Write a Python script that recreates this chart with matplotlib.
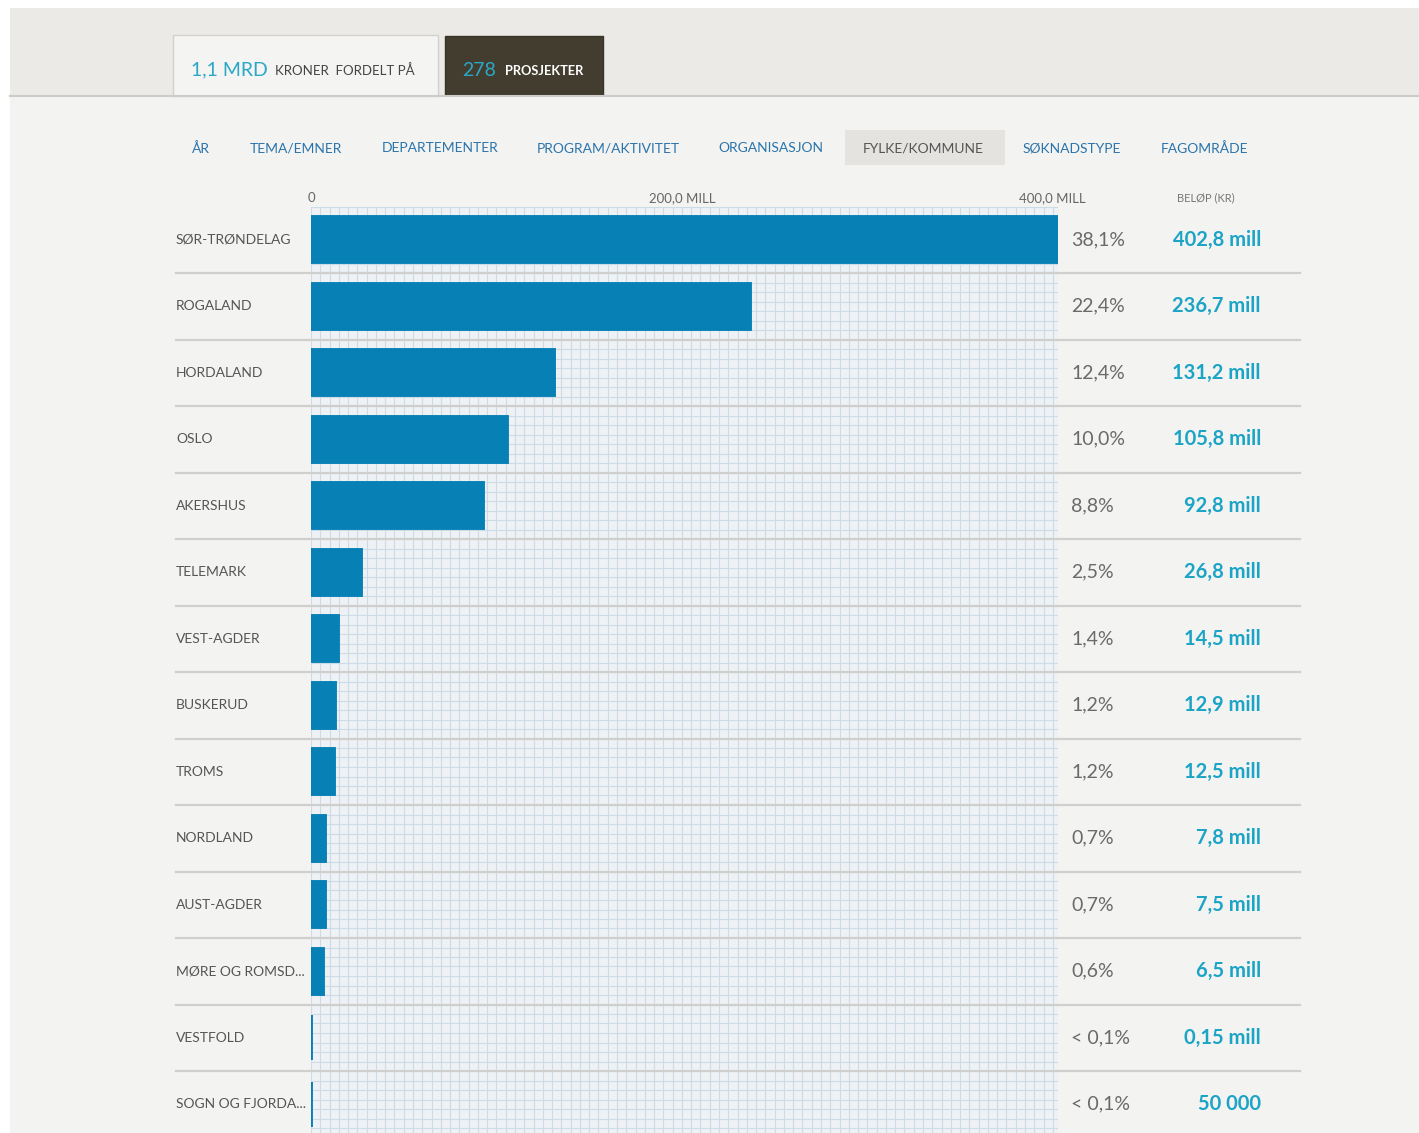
import numpy as np
import matplotlib
matplotlib.use("Agg")
import matplotlib.pyplot as plt
from matplotlib.patches import Rectangle
import matplotlib.transforms as mtransforms

plt.rcParams['font.family'] = ['Lato', 'DejaVu Sans']

# ---------------- data ----------------
regions = ["SØR-TRØNDELAG", "ROGALAND", "HORDALAND", "OSLO", "AKERSHUS",
           "TELEMARK", "VEST-AGDER", "BUSKERUD", "TROMS", "NORDLAND",
           "AUST-AGDER", "MØRE OG ROMSD...", "VESTFOLD", "SOGN OG FJORDA..."]
amounts_mill = [402.8, 236.7, 131.2, 105.8, 92.8, 26.8, 14.5, 12.9, 12.5,
                7.8, 7.5, 6.5, 0.15, 0.05]
percent_labels = ["38,1%", "22,4%", "12,4%", "10,0%", "8,8%", "2,5%", "1,4%",
                  "1,2%", "1,2%", "0,7%", "0,7%", "0,6%", "< 0,1%", "< 0,1%"]
amount_labels = ["402,8 mill", "236,7 mill", "131,2 mill", "105,8 mill",
                 "92,8 mill", "26,8 mill", "14,5 mill", "12,9 mill",
                 "12,5 mill", "7,8 mill", "7,5 mill", "6,5 mill",
                 "0,15 mill", "50 000"]
tick_values = [0, 200, 400]
tick_labels = ["0", "200,0 MILL", "400,0 MILL"]
nav_items = ["ÅR", "TEMA/EMNER", "DEPARTEMENTER", "PROGRAM/AKTIVITET",
             "ORGANISASJON", "FYLKE/KOMMUNE", "SØKNADSTYPE", "FAGOMRÅDE"]
active_nav = "FYLKE/KOMMUNE"
total_text = "1,1 MRD"
projects_text = "278"

# ---------------- figure ----------------
W, H = 1419, 1133
fig = plt.figure(figsize=(W / 100, H / 100), dpi=100, facecolor="white")

# background / decoration axes in pixel coordinates
bg = fig.add_axes([0, 0, 1, 1])
bg.set_xlim(0, W)
bg.set_ylim(H, 0)
bg.axis("off")
bg.add_patch(Rectangle((10, 8), W - 10, 87, facecolor="#ebeae6", edgecolor="none"))
bg.add_patch(Rectangle((10, 95), W - 10, H - 95, facecolor="#f3f3f1", edgecolor="none"))
bg.plot([10, W], [95.5, 95.5], color="#cdccc8", lw=1.5)

# header tabs
bg.add_patch(Rectangle((173, 35), 265, 61, facecolor="#f4f4f2", edgecolor="#d2d1cd", lw=1))
bg.text(191, 70, total_text, color="#2ba8c6", fontsize=14, va="center", ha="left")
bg.text(275, 71, "KRONER  FORDELT PÅ", color="#444444", fontsize=9.5, va="center", ha="left")
bg.add_patch(Rectangle((445, 36), 158, 59, facecolor="#433d30", edgecolor="#3a3428", lw=1))
bg.text(462, 70, projects_text, color="#2ba8c6", fontsize=14, va="center", ha="left")
bg.text(505, 71, "PROSJEKTER", color="white", fontsize=9.2, va="center", ha="left",
        fontweight="bold")

# navigation
nav_x = [201, 296, 440, 608, 771, 923, 1072, 1204]
for name, x in zip(nav_items, nav_x):
    if name == active_nav:
        bg.add_patch(Rectangle((845, 130), 160, 35, facecolor="#e4e3e0", edgecolor="none"))
        col = "#555555"
    else:
        col = "#2a74ac"
    bg.text(x, 148.5, name, color=col, fontsize=10, ha="center", va="center")

bg.text(1206, 198, "BELØP (KR)", color="#777777", fontsize=8, ha="center", va="center")

# ---------------- bar axes ----------------
x0_px, x1_px = 311, 1058
top_px = 206.5
row_h = 66.5
n = len(regions)
xmax = max(amounts_mill)
ax = fig.add_axes([x0_px / W, 0, (x1_px - x0_px) / W, (H - top_px) / H])
ax.set_xlim(0, xmax)
ybottom = -0.5 + (H - top_px) / row_h
ax.set_ylim(ybottom, -0.5)
ax.set_facecolor("#eef2f5")
for s in ax.spines.values():
    s.set_visible(False)

# grid
for gx in np.arange(0, xmax, 5):
    ax.axvline(gx, color="#cbdce6", lw=0.8, zorder=1)
ax.axvline(xmax, color="#cbdce6", lw=0.8, zorder=1)
for gy in np.arange(-0.5, ybottom, 1 / 7):
    ax.axhline(gy, color="#cbdce6", lw=0.8, zorder=1)

y = np.arange(n)
ax.barh(y, amounts_mill, height=0.67, color="#0780b6", edgecolor="#0780b6",
        lw=2.8, zorder=3)

# row separators extending outside the axes
trans = mtransforms.blended_transform_factory(ax.transAxes, ax.transData)
sx0 = (176 - x0_px) / (x1_px - x0_px)
sx1 = (1300 - x0_px) / (x1_px - x0_px)
for i in range(n - 1):
    ax.plot([sx0, sx1], [i + 0.5, i + 0.5], transform=trans, color="#cfcfcd",
            lw=1.6, clip_on=False, zorder=2)

# labels
lx = (176 - x0_px) / (x1_px - x0_px)
px_ = (1071 - x0_px) / (x1_px - x0_px)
ax_ = (1261 - x0_px) / (x1_px - x0_px)
for i in range(n):
    ax.text(lx, i, regions[i], transform=trans, ha="left", va="center",
            fontsize=10, color="#555555", clip_on=False)
    ax.text(px_, i, percent_labels[i], transform=trans, ha="left", va="center",
            fontsize=14, color="#6a6a6a", clip_on=False)
    ax.text(ax_, i, amount_labels[i], transform=trans, ha="right", va="center",
            fontsize=14.5, color="#1ba4c6", fontweight="bold", clip_on=False)

ax.xaxis.tick_top()
ax.set_xticks(tick_values)
ax.set_xticklabels(tick_labels, fontsize=9.5, color="#666666")
ax.tick_params(axis="x", length=0, pad=1.5)
ax.set_yticks([])

fig.savefig("out.png", dpi=100, facecolor="white")
